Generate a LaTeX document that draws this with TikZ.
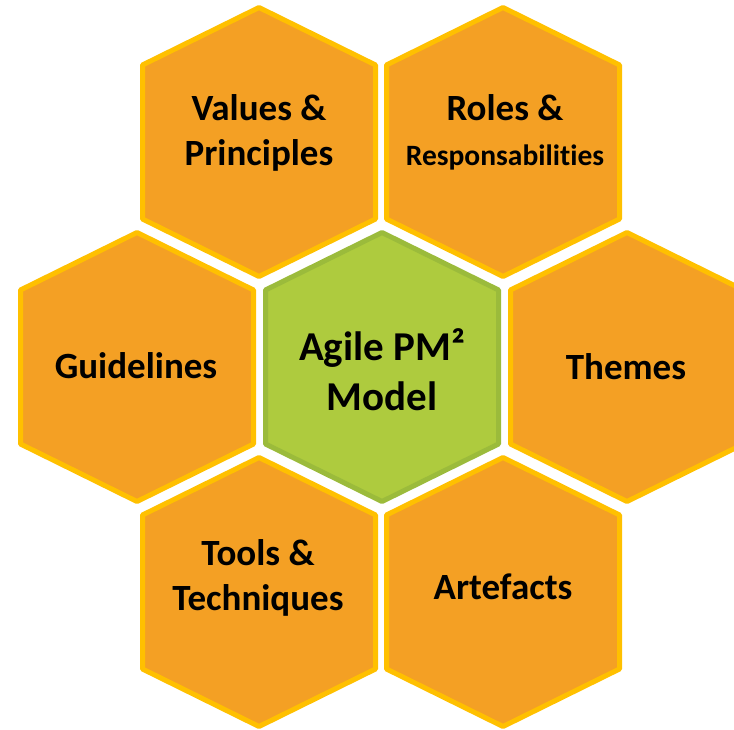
\documentclass[tikz,border=0pt]{standalone}
\usepackage{fontspec}
\setmainfont{Carlito}[Ligatures=NoCommon]
\usetikzlibrary{positioning}
\definecolor{hexOrange}{HTML}{F4A024}
\definecolor{hexRim}{HTML}{FFC000}
\definecolor{hexGreen}{HTML}{AECB3E}
\definecolor{hexGreenRim}{HTML}{9BBB3B}
\newcommand*{\hexW}{116.5}
\newcommand*{\hexH}{134.5}
\newcommand*{\hexS}{77}

\begin{document}
\begin{tikzpicture}[x=1pt, y=-1pt,
    cell/.style={fill=hexOrange, draw=hexRim, line width=5pt, line join=round},
    core/.style={fill=hexGreen, draw=hexGreenRim, line width=5pt, line join=round},
    celltext/.style={align=center, font=\bfseries\fontsize{37}{45}\selectfont, inner sep=0pt},
    coretext/.style={align=center, font=\bfseries\fontsize{41}{50}\selectfont, inner sep=0pt}]
    \useasboundingbox (0,0) rectangle (734,730);
    \clip (0,0) rectangle (734,730);
    % orange cells
    \foreach \x/\y in {259/142, 503/142, 137/367, 627/367, 259/592, 503/592} {
        \draw [cell] (\x,\y-\hexH) -- (\x+\hexW,\y-\hexS) -- (\x+\hexW,\y+\hexS)
            -- (\x,\y+\hexH) -- (\x-\hexW,\y+\hexS) -- (\x-\hexW,\y-\hexS) -- cycle;
    }
    % green core
    \draw [core] (382,367-\hexH) -- (382+\hexW,367-\hexS) -- (382+\hexW,367+\hexS)
        -- (382,367+\hexH) -- (382-\hexW,367+\hexS) -- (382-\hexW,367-\hexS) -- cycle;

    \node [coretext] (agile) at (382,370) {Agile PM²\\Model};
    \node [celltext] (values) at (259,133) {Values \&\\Principles};
    \node [celltext] (roles) at (505,132) {Roles \&\\{\fontsize{29.5}{36}\selectfont Responsabilities}};
    \node [celltext] (guidelines) at (136,366) {Guidelines};
    \node [celltext] (themes) at (626,367) {Themes};
    \node [celltext] (tools) at (258,578) {Tools \&\\Techniques};
    \node [celltext] (artefacts) at (503,587) {Artefacts};
\end{tikzpicture}
\end{document}
